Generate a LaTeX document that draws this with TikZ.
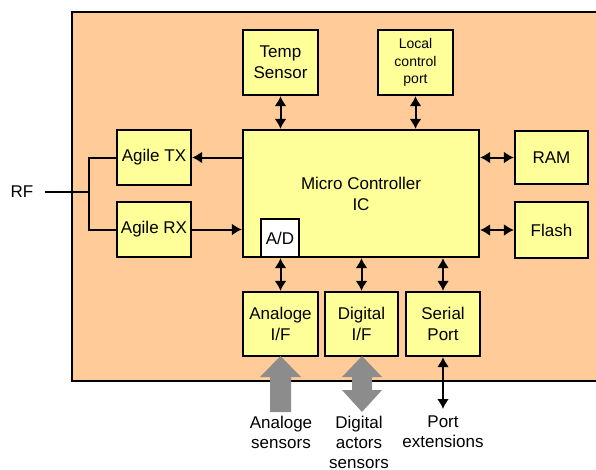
\documentclass[tikz,border=0pt]{standalone}
\usepackage{fontspec}
\setmainfont{Liberation Sans}
\usetikzlibrary{arrows.meta}

\definecolor{boardpeach}{RGB}{255,204,153}
\definecolor{boxyellow}{RGB}{255,255,153}
\definecolor{fatgray}{RGB}{140,140,140}

\tikzset{
  unit/.style={draw, line width=2.2pt, fill=boxyellow, align=center,
    inner sep=0pt, font=\fontsize{17}{21}\selectfont},
  wire/.style={line width=2pt},
  tip/.style={-{Latex[length=10pt,width=12pt]}},
  dbltip/.style={{Latex[length=10pt,width=12pt]}-{Latex[length=10pt,width=12pt]}},
  fat/.style={fill=fatgray},
  caption/.style={align=center, font=\fontsize{17}{20}\selectfont}
}

\begin{document}
\begin{tikzpicture}[x=1pt,y=-1pt]
      \clip (0,0) rectangle (596,469);
      \draw[line width=2.2pt, fill=boardpeach] (72,12) rectangle (610,381);

      \node[unit, minimum width=236pt, minimum height=127pt] (mc) at (361,193.5) {Micro Controller\\IC};
      \node[unit, fill=white, minimum width=38pt, minimum height=38pt] (ad) at (280,238) {A/D};
      \node[unit, minimum width=75pt, minimum height=65pt] (temp) at (280.5,62.5) {Temp\\Sensor};
      \node[unit, minimum width=75pt, minimum height=65pt, font=\fontsize{14}{17.5}\selectfont] (lcp) at (415.5,62.5) {Local\\control\\port};
      \node[unit, minimum width=74pt, minimum height=55pt] (tx) at (154,157.5) {Agile TX};
      \node[unit, minimum width=74pt, minimum height=55pt] (rx) at (154,229.5) {Agile RX};
      \node[unit, minimum width=73pt, minimum height=53pt] (ram) at (551.5,157.5) {RAM};
      \node[unit, minimum width=73pt, minimum height=56pt] (flash) at (551.5,230) {Flash};
      \node[unit, minimum width=75pt, minimum height=64pt] (ana) at (280.5,324) {Analoge\\I/F};
      \node[unit, minimum width=73pt, minimum height=64pt] (dig) at (361.5,324) {Digital\\I/F};
      \node[unit, minimum width=74pt, minimum height=64pt] (ser) at (443,324) {Serial\\Port};

      \node[caption] (rf) at (22,192) {RF};
      \coordinate (split) at (89,192);
      \node[caption] (anasens) at (281,432) {Analoge\\sensors};
      \node[caption] (digsens) at (359,442) {Digital\\actors\\sensors};
      \node[caption] (portext) at (443,432) {Port\\extensions};
      \coordinate (serend) at (443,409);

      % RF front end
      \draw[wire] ([xshift=8pt]rf.east) -- (split) |- (tx.west);
      \draw[wire] (split) |- (rx.west);
      \draw[wire, tip] (mc.west |- tx) -- (tx.east);
      \draw[wire, tip] (rx.east) -- (mc.west |- rx);

      % buses to the controller
      \draw[wire, dbltip] (temp.south) -- (temp.south |- mc.north);
      \draw[wire, dbltip] (lcp.south) -- (lcp.south |- mc.north);
      \draw[wire, dbltip] (mc.east |- ram) -- (ram.west);
      \draw[wire, dbltip] (mc.east |- flash) -- (flash.west);
      \draw[wire, dbltip] (ana.north) -- (ana.north |- mc.south);
      \draw[wire, dbltip] (dig.north) -- (dig.north |- mc.south);
      \draw[wire, dbltip] (ser.north) -- (ser.north |- mc.south);
      \draw[wire, dbltip] (ser.south) -- (serend);

      % outside world
      \fill[fat] (270,412) -- (270,377) -- (260,377) -- (280.5,356) -- (301,377) -- (291,377) -- (291,412) -- cycle;
      \fill[fat] (362,356) -- (382,377) -- (372,377) -- (372,390) -- (382,390) -- (362,412)
        -- (342,390) -- (352,390) -- (352,377) -- (342,377) -- cycle;
\end{tikzpicture}
\end{document}
